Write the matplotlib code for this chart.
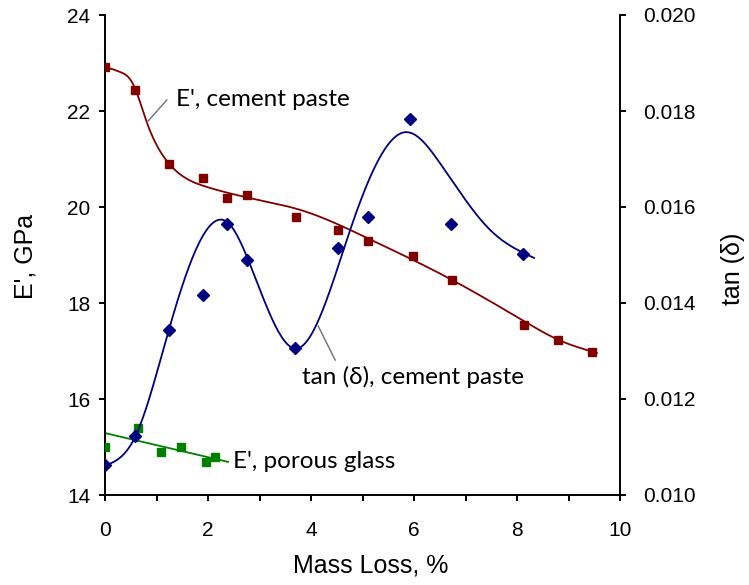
import numpy as np
import matplotlib
matplotlib.use("Agg")
import matplotlib.pyplot as plt

# --- measured data -------------------------------------------------------
# E', cement paste (GPa) vs mass loss (%)
cem_x = [0.0, 0.58, 1.24, 1.90, 2.37, 2.76, 3.71, 4.52, 5.11, 5.98, 6.74, 8.14, 8.80, 9.46]
cem_E = [22.92, 22.44, 20.90, 20.60, 20.19, 20.25, 19.79, 19.52, 19.29, 18.98, 18.48, 17.54, 17.23, 16.98]

# tan(delta), cement paste
tan_x = [0.0, 0.58, 1.24, 1.90, 2.37, 2.76, 3.69, 4.52, 5.11, 5.92, 6.72, 8.12]
tan_d = [0.01063, 0.01123, 0.01344, 0.01417, 0.01565, 0.01490, 0.01306, 0.01515, 0.01579, 0.01783, 0.01565, 0.01502]

# E', porous glass (GPa)
gls_x = [0.0, 0.64, 1.09, 1.48, 1.97, 2.14]
gls_E = [15.00, 15.40, 14.90, 15.00, 14.69, 14.79]

# hand-drawn trend curves through the data
cem_fit_x = [0.0, 0.30, 0.55, 0.80, 1.20, 1.97, 3.14, 3.79, 5.08, 6.74, 8.14, 8.81, 9.55]
cem_fit_E = [22.92, 22.81, 22.55, 21.80, 20.96, 20.42, 20.11, 19.94, 19.36, 18.48, 17.62, 17.23, 16.96]

tan_fit_x = [0.0, 0.58, 1.24, 1.84, 2.39, 2.78, 3.71, 4.76, 5.84, 6.50, 7.48, 8.33]
tan_fit_d = [0.01061, 0.01120, 0.01344, 0.01528, 0.01567, 0.01490, 0.01305, 0.01552, 0.01756,
             0.01692, 0.01552, 0.01494]

# linear fit for porous glass
gls_fit_x = [0.0, 2.39]
gls_fit_E = [15.29, 14.69]

x_ticks = [0, 2, 4, 6, 8, 10]
E_ticks = [14, 16, 18, 20, 22, 24]
tan_ticks = [0.010, 0.012, 0.014, 0.016, 0.018, 0.020]


def natural_spline(xs, ys, n=400):
    """Natural cubic spline y(x) through the knots."""
    x = np.asarray(xs, float)
    y = np.asarray(ys, float)
    k = len(x)
    h = np.diff(x)
    A = np.zeros((k, k))
    rhs = np.zeros(k)
    A[0, 0] = A[-1, -1] = 1.0
    for i in range(1, k - 1):
        A[i, i - 1] = h[i - 1]
        A[i, i] = 2 * (h[i - 1] + h[i])
        A[i, i + 1] = h[i]
        rhs[i] = 3 * ((y[i + 1] - y[i]) / h[i] - (y[i] - y[i - 1]) / h[i - 1])
    c = np.linalg.solve(A, rhs)
    b = (y[1:] - y[:-1]) / h - h * (2 * c[:-1] + c[1:]) / 3
    d = (c[1:] - c[:-1]) / (3 * h)
    xx = np.linspace(x[0], x[-1], n)
    idx = np.clip(np.searchsorted(x, xx) - 1, 0, k - 2)
    dx = xx - x[idx]
    yy = y[idx] + b[idx] * dx + c[idx] * dx ** 2 + d[idx] * dx ** 3
    return xx, yy


RED = "#800000"
BLUE = "#000080"
GREEN = "#008000"
TICK_FONT = "Liberation Sans"
NOTE_FONT = ["Lato", "DejaVu Sans"]

plt.rcParams["font.family"] = [TICK_FONT, "DejaVu Sans"]

W, H = 749, 585
fig = plt.figure(figsize=(W / 100, H / 100), dpi=100)
L, R, T, B = 105, 620, 15, 495
ax = fig.add_axes([L / W, 1 - B / H, (R - L) / W, (B - T) / H])
ax2 = ax.twinx()

ax.set_xlim(0, 10)
ax.set_ylim(14, 24)
ax2.set_ylim(0.010, 0.020)

for a in (ax, ax2):
    a.spines["top"].set_visible(False)
    for s in a.spines.values():
        s.set_linewidth(1.4)
ax.spines["right"].set_visible(False)
ax2.spines["left"].set_visible(False)
ax2.spines["bottom"].set_visible(False)

ax.set_xticks(x_ticks)
ax.set_xticks(np.arange(1, 10, 2), minor=True)
ax.set_yticks(E_ticks)
ax2.set_yticks(tan_ticks)
ax2.set_yticklabels([f"{v:.3f}" for v in tan_ticks])
ax.tick_params(axis="both", which="both", direction="out", length=4.5, width=1.4,
               labelsize=15, pad=6)
ax.tick_params(axis="x", pad=14)
ax2.tick_params(axis="y", direction="out", length=4.5, width=1.4, labelsize=15, pad=12)

# trend curves
cx, cy = natural_spline(cem_fit_x, cem_fit_E)
ax.plot(cx, cy, color=RED, lw=1.3, zorder=2)
tx, ty = natural_spline(tan_fit_x, tan_fit_d)
ax2.plot(tx, ty, color=BLUE, lw=1.3, zorder=2)
ax.plot(gls_fit_x, gls_fit_E, color=GREEN, lw=1.3, zorder=2)

# data points
ax.plot(cem_x, cem_E, ls="none", marker="s", ms=6, color=RED, zorder=3)
ax.plot(gls_x, gls_E, ls="none", marker="s", ms=6, color=GREEN, zorder=3)
ax2.plot(tan_x, tan_d, ls="none", marker="D", ms=6, color=BLUE, zorder=3)

# series annotations
note_kw = dict(fontsize=17.5, family=NOTE_FONT, va="center", ha="left", color="black")
ax.text(1.38, 22.23, "E', cement paste", **note_kw)
ax.plot([0.82, 1.20], [21.77, 22.23], color="#707070", lw=1.0)
ax.text(3.83, 16.46, "tan (\u03b4), cement paste", **note_kw)
ax.plot([4.14, 4.47], [17.52, 16.81], color="#707070", lw=1.0)
ax.text(2.49, 14.69, "E', porous glass", **note_kw)

# axis titles
fig.text(25 / W, 1 - 256 / H, "E', GPa", rotation=90, ha="center", va="center", fontsize=18)
fig.text(733 / W, 1 - 269 / H, "tan (\u03b4)", rotation=90, ha="center", va="center", fontsize=18)
fig.text(371 / W, 1 - 566 / H, "Mass Loss, %", ha="center", va="center", fontsize=18)

fig.savefig("out.png", dpi=100)
